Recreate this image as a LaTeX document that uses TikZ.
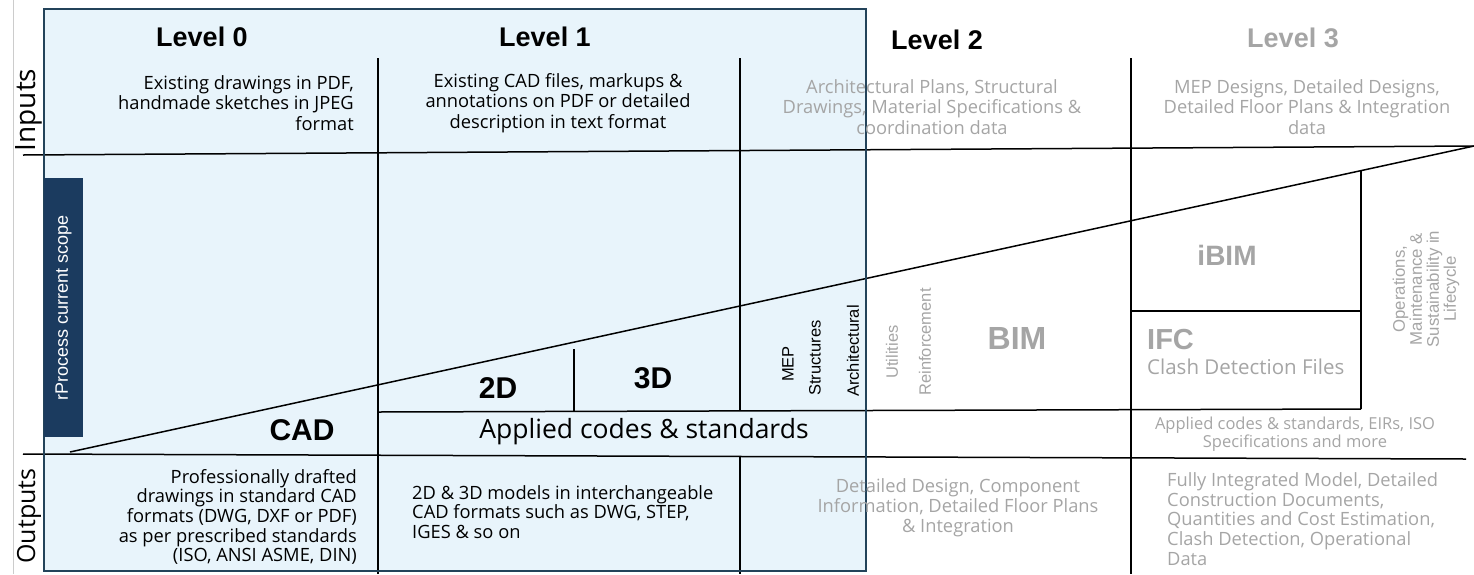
\documentclass[tikz,border=0pt]{standalone}
\usepackage{fontspec}
\setmainfont{Open Sans}
\newfontfamily\arialf{Liberation Sans}
\definecolor{lightblue}{HTML}{E8F4FB}
\definecolor{boxborder}{HTML}{23435A}
\definecolor{navy}{HTML}{1B3B5F}
\definecolor{greytxt}{HTML}{A5A5A5}
\definecolor{thingrey}{HTML}{CCCCCC}
\tikzset{
  body/.style={inner sep=0pt, font=\fontsize{18.3}{20.2}\selectfont, text=black},
  greybody/.style={body, text=greytxt},
  heading/.style={inner sep=0pt, font=\arialf\bfseries\fontsize{27}{30}\selectfont},
  bigbold/.style={inner sep=0pt, font=\arialf\bfseries\fontsize{30}{34}\selectfont},
  rotlabel/.style={inner sep=0pt, rotate=90, font=\arialf\fontsize{16.5}{18}\selectfont},
  sidelabel/.style={inner sep=0pt, rotate=90, font=\fontsize{25}{28}\selectfont},
  gridline/.style={line width=1.5pt, black},
}
\begin{document}
\begin{tikzpicture}[x=1pt,y=-1pt]
\useasboundingbox (0,0) rectangle (1474,574);
% thin left rule
\coordinate (gl1) at (13,0);
\coordinate (gl2) at (13,574);
\draw[thingrey, line width=1pt] (gl1) -- (gl2);
% scope box
\fill[lightblue] (44,9) rectangle (866,571);
% coordinates of the grid
\coordinate (topL) at (23,155);
\coordinate (topR) at (1474,146);
\coordinate (slL) at (70,452);
\coordinate (botL) at (23,454);
\coordinate (botR) at (1466,459);
\coordinate (v1t) at (378,58);
\coordinate (v1b) at (378,574);
\coordinate (v2t) at (740,58);
\coordinate (v2m) at (740,411);
\coordinate (v2n) at (740,457);
\coordinate (v2b) at (740,574);
\coordinate (v3t) at (1131,58);
\coordinate (v3b) at (1131,574);
\coordinate (hAL) at (378,412);
\coordinate (hAR) at (1361,409);
\coordinate (v4t) at (1361,171);
\coordinate (hIL) at (1131,311);
\coordinate (hIR) at (1361,311);
\coordinate (v5t) at (574,349);
\coordinate (v5b) at (574,411);
\draw[gridline] (topL) -- (topR);
\draw[gridline] (slL) -- (topR);
\draw[gridline] (botL) -- (botR);
\draw[gridline] (v1t) -- (v1b);
\draw[gridline] (v2t) -- (v2m);
\draw[gridline] (v2n) -- (v2b);
\draw[gridline] (v3t) -- (v3b);
\draw[gridline] (hAL) -- (hAR);
\draw[gridline] (v4t) -- (hAR);
\draw[gridline] (hIL) -- (hIR);
\draw[gridline] (v5t) -- (v5b);
% scope border
\draw[boxborder, line width=1.3pt] (44,9) rectangle (866,571);
% navy tab
\node[fill=navy, minimum width=39pt, minimum height=259pt, inner sep=0pt] (tab) at (63.5,307.5) {};
\node[inner sep=0pt, rotate=90, text=white, font=\arialf\fontsize{18}{20}\selectfont] (tabtxt) at (63.5,308) {rProcess current scope};
% side labels
\node[sidelabel, font=\fontsize{28}{30}\selectfont] (inputs) at (29,110) {Inputs};
\node[sidelabel] (outputs) at (29,516) {Outputs};
% headings
\node[heading] (lv0) at (202,37) {Level 0};
\node[heading] (lv1) at (545,37) {Level 1};
\node[heading] (lv2) at (937,40) {Level 2};
\node[heading, text=greytxt] (lv3) at (1293,38) {Level 3};
% inputs
\node[body, align=right, anchor=east] (in0) at (354,103) {Existing drawings in PDF,\\handmade sketches in JPEG\\format};
\node[body, align=center] (in1) at (558,103) {Existing CAD files, markups \&\\annotations on PDF or detailed\\description in text format};
\node[greybody, align=center] (in2) at (932,107) {Architectural Plans, Structural\\Drawings, Material Specifications \&\\coordination data};
\node[greybody, align=center] (in3) at (1307,107) {MEP Designs, Detailed Designs,\\Detailed Floor Plans \& Integration\\data};
% outputs
\node[body, align=right, anchor=east, font=\fontsize{18.3}{19.7}\selectfont] (out0) at (357,517) {Professionally drafted\\drawings in standard CAD\\formats (DWG, DXF or PDF)\\as per prescribed standards\\(ISO, ANSI ASME, DIN)};
\node[body, align=left, anchor=west, font=\fontsize{18.3}{19.5}\selectfont] (out1) at (412,512) {2D \& 3D models in interchangeable\\CAD formats such as DWG, STEP,\\IGES \& so on};
\node[greybody, align=center] (out2) at (958,508) {Detailed Design, Component\\Information, Detailed Floor Plans\\\& Integration};
\node[greybody, align=left, anchor=west, font=\fontsize{18.3}{19.6}\selectfont] (out3) at (1167,519) {Fully Integrated Model, Detailed\\Construction Documents,\\Quantities and Cost Estimation,\\Clash Detection, Operational\\Data};
% middle band
\node[bigbold] (cad) at (302,430) {CAD};
\node[bigbold] (twod) at (498,388) {2D};
\node[bigbold] (threed) at (653,378) {3D};
\node[inner sep=0pt, font=\fontsize{26.5}{30}\selectfont] (applied) at (644,432) {Applied codes \& standards};
\node[inner sep=0pt, align=center, text=greytxt, font=\fontsize{16.5}{17.5}\selectfont] (applied3) at (1295,434) {Applied codes \& standards, EIRs, ISO\\Specifications and more};
\node[rotlabel] (mep) at (788,364) {MEP};
\node[rotlabel] (struct) at (815,358) {Structures};
\node[rotlabel] (arch) at (853,351) {Architectural};
\node[rotlabel, text=greytxt] (util) at (892,352) {Utilities};
\node[rotlabel, text=greytxt] (reinf) at (925,342) {Reinforcement};
\node[bigbold, text=greytxt, font=\arialf\bfseries\fontsize{32}{34}\selectfont] (bim) at (1017,338) {BIM};
\node[inner sep=0pt, text=greytxt, font=\arialf\bfseries\fontsize{28}{30}\selectfont] (ibim) at (1227,255) {iBIM};
\node[inner sep=0pt, text=greytxt, font=\arialf\bfseries\fontsize{29}{30}\selectfont, anchor=west] (ifc) at (1147,340) {IFC};
\node[inner sep=0pt, text=greytxt, font=\fontsize{20.5}{22}\selectfont, anchor=west] (clash) at (1147,367) {Clash Detection Files};
\node[rotlabel, text=greytxt, align=center, font=\arialf\fontsize{16.8}{17}\selectfont] (ops) at (1426,289) {Operations,\\Maintenance \&\\Sustainability in\\Lifecycle};
\end{tikzpicture}
\end{document}
